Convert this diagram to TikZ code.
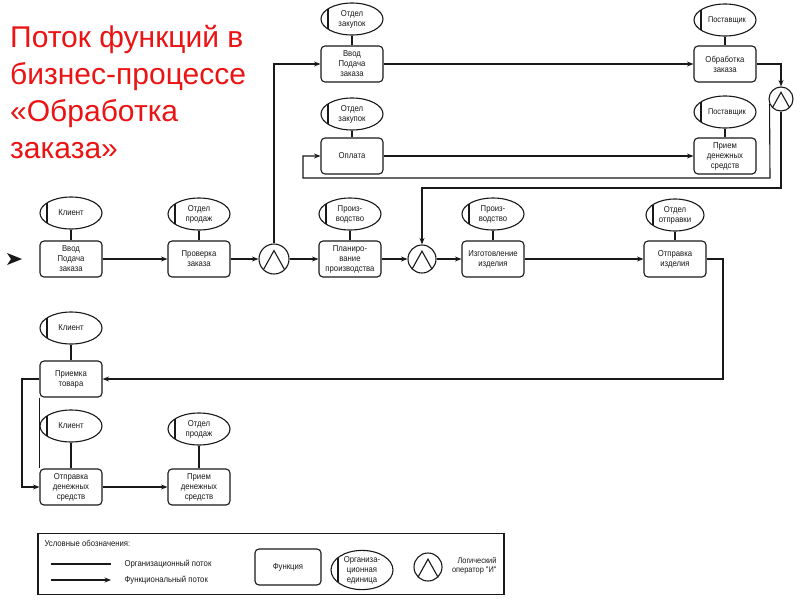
\documentclass[tikz,border=0pt]{standalone}
\usepackage{fontspec}
\setmainfont{Liberation Sans}
\newfontfamily\nf[FakeStretch=0.9]{Liberation Sans}
\usetikzlibrary{arrows.meta,calc,shapes.geometric}
\definecolor{ink}{RGB}{25,25,25}
\definecolor{titlered}{RGB}{235,20,20}
\begin{document}
\begin{tikzpicture}[x=1pt,y=-1pt,
  every node/.style={font=\nf\fontsize{8.6}{10}\selectfont, text=ink},
  fbox/.style={draw=ink, line width=1.1pt, rounded corners=4pt, minimum width=62pt, minimum height=36pt, inner sep=1pt, align=center},
  org/.style={draw=ink, line width=1.1pt, ellipse, minimum width=62pt, minimum height=32pt, inner sep=0pt, align=center,
    path picture={\draw[ink, line width=1.1pt] ([xshift=7pt]path picture bounding box.north west) -- ([xshift=7pt]path picture bounding box.south west);}},
  shiftr/.style={font=\nf\fontsize{8.2}{10}\selectfont, execute at begin node={\hspace*{4pt}}},
  andc/.style={draw=ink, line width=1.1pt, circle, minimum size=#1, inner sep=0pt,
    path picture={\draw[ink, line width=1.1pt, line join=miter]
      ($(path picture bounding box.south west)!0.15!(path picture bounding box.north east)$) --
      ($(path picture bounding box.south)!0.78!(path picture bounding box.north)$) --
      ($(path picture bounding box.south east)!0.15!(path picture bounding box.north west)$);}},
  oline/.style={draw=ink, line width=1.1pt},
  flow/.style={draw=ink, line width=1.1pt, -{Stealth[length=6.5pt,width=5pt]}},
  ttl/.style={font=\fontsize{30}{36}\selectfont, text=titlered, anchor=base west, inner sep=0pt},
]
\useasboundingbox[fill=white] (0,0) rectangle (800,600);

% title
\node[ttl] (t1) at (10,47) {Поток функций в};
\node[ttl] (t2) at (10,84) {бизнес-процессе};
\node[ttl] (t3) at (10,121) {«Обработка};
\node[ttl] (t4) at (10,158) {заказа»};

% top rows
\node[org] (ez1) at (352,19) {Отдел\\закупок};
\node[fbox] (vv1) at (352,64) {Ввод\\Подача\\заказа};
\node[org] (ez2) at (352,114) {Отдел\\закупок};
\node[fbox] (opl) at (352,156) {Оплата};
\node[org, shiftr] (ps1) at (725,20) {Поставщик};
\node[fbox] (obr) at (725,64) {Обработка\\заказа};
\node[org, shiftr] (ps2) at (725,112) {Поставщик};
\node[fbox] (pr1) at (725,156) {Прием\\денежных\\средств};
\node[andc=24pt] (a3) at (781,99) {};

% middle row
\node[org] (k1) at (71,213) {Клиент};
\node[fbox] (vv2) at (71,259) {Ввод\\Подача\\заказа};
\node[org] (op1) at (199,214) {Отдел\\продаж};
\node[fbox] (prv) at (199,259) {Проверка\\заказа};
\node[andc=30pt] (a1) at (274,259) {};
\node[org] (pz1) at (350,214) {Произ-\\водство};
\node[fbox] (pln) at (350,259) {Планиро-\\вание\\производства};
\node[andc=28pt] (a2) at (422,259) {};
\node[org] (pz2) at (493,214) {Произ-\\водство};
\node[fbox] (izg) at (493,259) {Изготовление\\изделия};
\node[org, minimum width=58pt] (oo) at (675,215) {Отдел\\отправки};
\node[fbox] (otp) at (675,259) {Отправка\\изделия};

% lower rows
\node[org] (k2) at (71,328) {Клиент};
\node[fbox] (pmk) at (71,379) {Приемка\\товара};
\node[org] (k3) at (71,426) {Клиент};
\node[fbox] (odc) at (71,487) {Отправка\\денежных\\средств};
\node[org] (op2) at (199,429) {Отдел\\продаж};
\node[fbox] (pdc) at (199,487) {Прием\\денежных\\средств};

% start marker
\fill[ink] (7,253) -- (22,259) -- (7,265) -- (11,259) -- cycle;

% organisational lines
\foreach \e/\b in {ez1/vv1, ez2/opl, ps1/obr, ps2/pr1, k1/vv2, op1/prv, pz1/pln, pz2/izg, oo/otp, k2/pmk, k3/odc, op2/pdc}
  \draw[oline] (\e.south) -- (\b.north);
\draw[oline] (pmk.south west) -- (odc.north west);

% functional flow
\draw[flow] (vv2.east) -- (prv.west);
\draw[flow] (prv.east) -- (a1.west);
\draw[flow] (a1.east) -- (pln.west);
\draw[flow] (a1.north) |- (vv1.west);
\draw[flow] (vv1.east) -- (obr.west);
\draw[flow] (obr.east) -| (a3.north);
\coordinate (c3a) at (770,178);
\coordinate (c3b) at (303,156);
\draw[flow] (a3.204) -- (c3a) -| (c3b) -- (opl.west);
\coordinate (c3c) at (781,188);
\draw[flow] (a3.south) -- (c3c) -| (a2.north);
\draw[flow] (opl.east) -- (pr1.west);
\draw[flow] (pln.east) -- (a2.west);
\draw[flow] (a2.east) -- (izg.west);
\draw[flow] (izg.east) -- (otp.west);
\coordinate (c1) at (723,379);
\draw[flow] (otp.east) -| (c1) -- (pmk.east);
\coordinate (c2) at (22,487);
\draw[flow] (pmk.west) -| (c2) -- (odc.west);
\draw[flow] (odc.east) -- (pdc.west);

% legend
\node[draw=ink, line width=1.1pt, minimum width=466pt, minimum height=61pt, inner sep=0pt] (leg) at (271,564) {};
\node[anchor=west] (lt) at (41,543) {Условные обозначения:};
\coordinate (l1a) at (51,564);
\coordinate (l1b) at (111,564);
\draw[oline] (l1a) -- (l1b);
\node[anchor=west] (l1t) at (121,564) {Организационный поток};
\coordinate (l2a) at (51,580);
\coordinate (l2b) at (111,580);
\draw[flow] (l2a) -- (l2b);
\node[anchor=west] (l2t) at (121,580) {Функциональный поток};
\node[fbox, minimum width=66pt] (lf) at (288,567) {Функция};
\node[org, minimum height=36pt] (lo) at (362,570) {Организа-\\ционная\\единица};
\node[andc=28pt] (la) at (428,567) {};
\node[align=right, anchor=east, font=\nf\fontsize{8.2}{9}\selectfont] (lat) at (500,566) {Логический\\оператор "И"};
\end{tikzpicture}
\end{document}
